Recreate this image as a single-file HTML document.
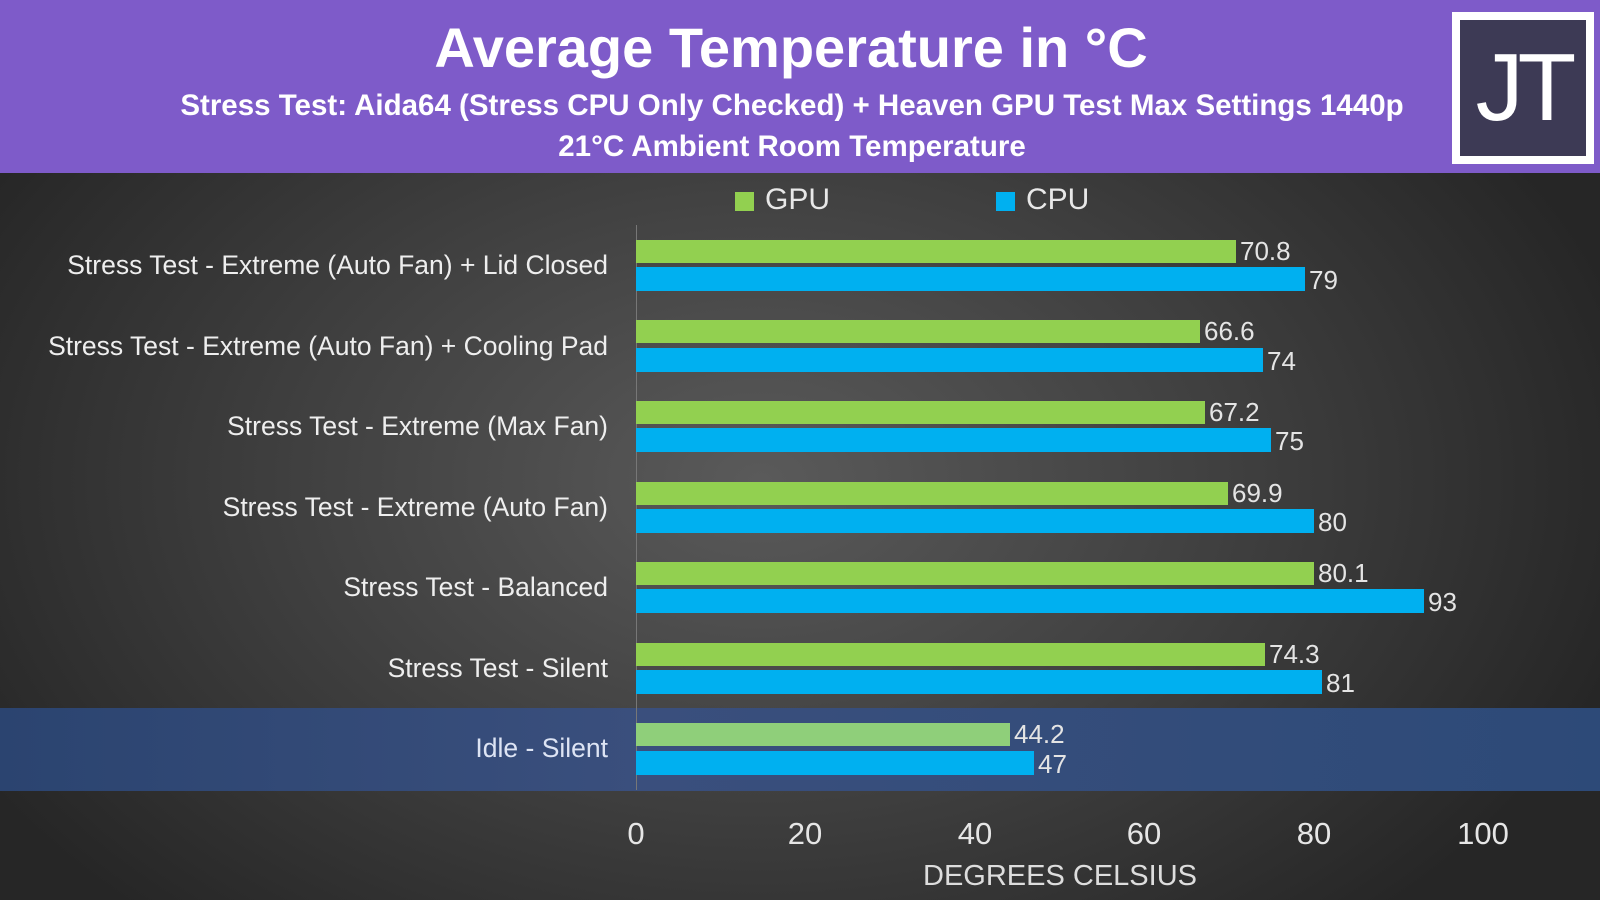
<!DOCTYPE html>
<html><head><meta charset="utf-8"><style>
*{margin:0;padding:0;box-sizing:border-box}
body{width:1600px;height:900px;overflow:hidden;font-family:"Liberation Sans",sans-serif;background:radial-gradient(ellipse 900px 600px at 760px 480px,#5a5a5a 0%,#3e3e3e 55%,#262626 100%);position:relative;color:#e8e8e8}
.a{position:absolute;white-space:nowrap}
.hdr{left:0;top:0;width:1600px;height:173px;background:#7e5bc9}
.t{left:0;width:1600px;text-align:center;color:#fff;font-weight:bold}
.lbl{right:992px;font-size:26.5px;color:#eee;text-align:right}
.g{background:#92d050;height:23px;left:636px}
.c{background:#00b0f0;height:24px;left:636px}
.v{font-size:26px;color:#e4e4e4}
.tk{font-size:31px;color:#e6e6e6;transform:translateX(-50%);top:816px}
</style></head><body>
<div class="a hdr"></div>
<div class="a t" style="top:15px;font-size:56px;left:-9px">Average Temperature in °C</div>
<div class="a t" style="top:89px;font-size:29.5px;left:-8px">Stress Test: Aida64 (Stress CPU Only Checked) + Heaven GPU Test Max Settings 1440p</div>
<div class="a t" style="top:130px;font-size:29.5px;left:-8px">21°C Ambient Room Temperature</div>
<div class="a" style="left:1452px;top:12px;width:142px;height:152px;background:#fff"></div>
<div class="a" style="left:1460px;top:20px;width:126px;height:136px;background:#3d3a55;color:#fff;font-size:96px;text-align:center;line-height:136px;letter-spacing:-6px">JT</div>

<div class="a" style="left:0;top:708px;width:1600px;height:83px;background:linear-gradient(90deg,#2b4470,#3a4f7d 40%,#2d4a78)"></div>

<div class="a" style="left:735px;top:192px;width:19px;height:19px;background:#92d050"></div>
<div class="a" style="left:765px;top:183px;font-size:30px">GPU</div>
<div class="a" style="left:996px;top:192px;width:19px;height:19px;background:#00b0f0"></div>
<div class="a" style="left:1026px;top:183px;font-size:30px">CPU</div>

<div class="a" style="left:636px;top:225px;width:1px;height:565px;background:#777"></div>

<div class="a lbl" style="top:250px">Stress Test - Extreme (Auto Fan) + Lid Closed</div>
<div class="a lbl" style="top:331px">Stress Test - Extreme (Auto Fan) + Cooling Pad</div>
<div class="a lbl" style="top:411px">Stress Test - Extreme (Max Fan)</div>
<div class="a lbl" style="top:492px">Stress Test - Extreme (Auto Fan)</div>
<div class="a lbl" style="top:572px">Stress Test - Balanced</div>
<div class="a lbl" style="top:653px">Stress Test - Silent</div>
<div class="a lbl" style="top:733px;color:#dde4f4">Idle - Silent</div>

<div class="a g" style="top:240px;width:600px"></div><div class="a v" style="top:236px;left:1240px">70.8</div>
<div class="a c" style="top:267px;width:669px"></div><div class="a v" style="top:265px;left:1309px">79</div>
<div class="a g" style="top:320px;width:564px"></div><div class="a v" style="top:316px;left:1204px">66.6</div>
<div class="a c" style="top:348px;width:627px"></div><div class="a v" style="top:346px;left:1267px">74</div>
<div class="a g" style="top:401px;width:569px"></div><div class="a v" style="top:397px;left:1209px">67.2</div>
<div class="a c" style="top:428px;width:635px"></div><div class="a v" style="top:426px;left:1275px">75</div>
<div class="a g" style="top:482px;width:592px"></div><div class="a v" style="top:478px;left:1232px">69.9</div>
<div class="a c" style="top:509px;width:678px"></div><div class="a v" style="top:507px;left:1318px">80</div>
<div class="a g" style="top:562px;width:678px"></div><div class="a v" style="top:558px;left:1318px">80.1</div>
<div class="a c" style="top:589px;width:788px"></div><div class="a v" style="top:587px;left:1428px">93</div>
<div class="a g" style="top:643px;width:629px"></div><div class="a v" style="top:639px;left:1269px">74.3</div>
<div class="a c" style="top:670px;width:686px"></div><div class="a v" style="top:668px;left:1326px">81</div>
<div class="a g" style="top:723px;width:374px;background:#8fcf7a"></div><div class="a v" style="top:719px;left:1014px">44.2</div>
<div class="a c" style="top:751px;width:398px"></div><div class="a v" style="top:749px;left:1038px">47</div>

<div class="a tk" style="left:636px">0</div>
<div class="a tk" style="left:805px">20</div>
<div class="a tk" style="left:975px">40</div>
<div class="a tk" style="left:1144px">60</div>
<div class="a tk" style="left:1314px">80</div>
<div class="a tk" style="left:1483px">100</div>
<div class="a" style="left:1060px;top:860px;transform:translateX(-50%);font-size:29px;color:#ddd">DEGREES CELSIUS</div>
</body></html>
